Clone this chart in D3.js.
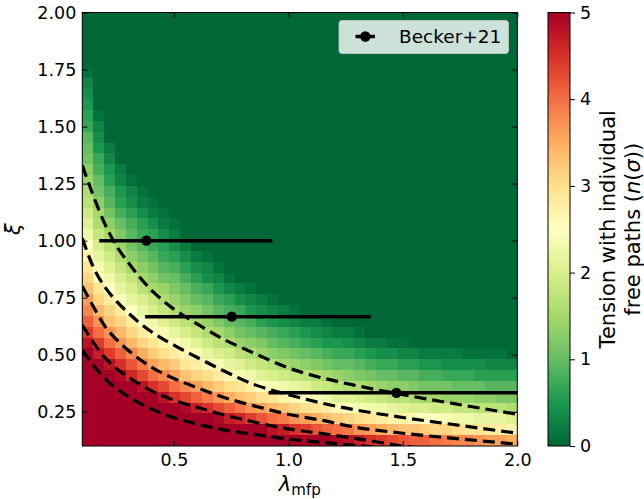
<!DOCTYPE html>
<html><head><meta charset="utf-8">
<script src="https://cdn.jsdelivr.net/npm/d3@7"></script>
<style>
body{margin:0;background:#fff}
svg text{font-family:"DejaVu Sans",sans-serif;fill:#000}
</style>
</head><body>
<svg id="chart" width="644" height="499"></svg>
<script>
// ---------------- data ----------------
const lamCenters = [0.124,0.171,0.219,0.266,0.314,0.361,0.409,0.456,0.504,0.551,
  0.599,0.646,0.694,0.741,0.789,0.836,0.884,0.931,0.979,1.026,
  1.074,1.121,1.169,1.216,1.264,1.311,1.359,1.406,1.454,1.501,
  1.549,1.596,1.644,1.691,1.739,1.786,1.834,1.881,1.929,1.976];
// row centres, top row first
const xiRows = [1.976,1.929,1.881,1.834,1.786,1.739,1.691,1.644,1.596,1.549,
  1.501,1.454,1.406,1.359,1.311,1.264,1.216,1.169,1.121,1.074,
  1.026,0.979,0.931,0.884,0.836,0.789,0.741,0.694,0.646,0.599,
  0.551,0.504,0.456,0.409,0.361,0.314,0.266,0.219,0.171,0.124];
// tension in n(sigma), one array per xi row (top to bottom), one value per lambda column
const tension = [
[0,0,0,0,0,0,0,0,0,0, 0,0,0,0,0,0,0,0,0,0, 0,0,0,0,0,0,0,0,0,0, 0,0,0,0,0,0,0,0,0,0],
[0,0,0,0,0,0,0,0,0,0, 0,0,0,0,0,0,0,0,0,0, 0,0,0,0,0,0,0,0,0,0, 0,0,0,0,0,0,0,0,0,0],
[0,0,0,0,0,0,0,0,0,0, 0,0,0,0,0,0,0,0,0,0, 0,0,0,0,0,0,0,0,0,0, 0,0,0,0,0,0,0,0,0,0],
[0,0,0,0,0,0,0,0,0,0, 0,0,0,0,0,0,0,0,0,0, 0,0,0,0,0,0,0,0,0,0, 0,0,0,0,0,0,0,0,0,0],
[0,0,0,0,0,0,0,0,0,0, 0,0,0,0,0,0,0,0,0,0, 0,0,0,0,0,0,0,0,0,0, 0,0,0,0,0,0,0,0,0,0],
[.1,0,0,0,0,0,0,0,0,0, 0,0,0,0,0,0,0,0,0,0, 0,0,0,0,0,0,0,0,0,0, 0,0,0,0,0,0,0,0,0,0],
[.3,0,0,0,0,0,0,0,0,0, 0,0,0,0,0,0,0,0,0,0, 0,0,0,0,0,0,0,0,0,0, 0,0,0,0,0,0,0,0,0,0],
[.4,0,0,0,0,0,0,0,0,0, 0,0,0,0,0,0,0,0,0,0, 0,0,0,0,0,0,0,0,0,0, 0,0,0,0,0,0,0,0,0,0],
[.5,0,0,0,0,0,0,0,0,0, 0,0,0,0,0,0,0,0,0,0, 0,0,0,0,0,0,0,0,0,0, 0,0,0,0,0,0,0,0,0,0],
[.6,.1,0,0,0,0,0,0,0,0, 0,0,0,0,0,0,0,0,0,0, 0,0,0,0,0,0,0,0,0,0, 0,0,0,0,0,0,0,0,0,0],
[.7,.3,0,0,0,0,0,0,0,0, 0,0,0,0,0,0,0,0,0,0, 0,0,0,0,0,0,0,0,0,0, 0,0,0,0,0,0,0,0,0,0],
[.9,.4,0,0,0,0,0,0,0,0, 0,0,0,0,0,0,0,0,0,0, 0,0,0,0,0,0,0,0,0,0, 0,0,0,0,0,0,0,0,0,0],
[1,.5,.2,0,0,0,0,0,0,0, 0,0,0,0,0,0,0,0,0,0, 0,0,0,0,0,0,0,0,0,0, 0,0,0,0,0,0,0,0,0,0],
[1.1,.7,.3,0,0,0,0,0,0,0, 0,0,0,0,0,0,0,0,0,0, 0,0,0,0,0,0,0,0,0,0, 0,0,0,0,0,0,0,0,0,0],
[1.3,.8,.5,.2,0,0,0,0,0,0, 0,0,0,0,0,0,0,0,0,0, 0,0,0,0,0,0,0,0,0,0, 0,0,0,0,0,0,0,0,0,0],
[1.4,1,.6,.3,.1,0,0,0,0,0, 0,0,0,0,0,0,0,0,0,0, 0,0,0,0,0,0,0,0,0,0, 0,0,0,0,0,0,0,0,0,0],
[1.6,1.1,.8,.5,.3,.1,0,0,0,0, 0,0,0,0,0,0,0,0,0,0, 0,0,0,0,0,0,0,0,0,0, 0,0,0,0,0,0,0,0,0,0],
[1.7,1.3,.9,.6,.4,.2,.1,0,0,0, 0,0,0,0,0,0,0,0,0,0, 0,0,0,0,0,0,0,0,0,0, 0,0,0,0,0,0,0,0,0,0],
[1.9,1.5,1.1,.8,.6,.4,.2,.1,0,0, 0,0,0,0,0,0,0,0,0,0, 0,0,0,0,0,0,0,0,0,0, 0,0,0,0,0,0,0,0,0,0],
[2.1,1.6,1.3,1,.8,.6,.4,.2,.1,0, 0,0,0,0,0,0,0,0,0,0, 0,0,0,0,0,0,0,0,0,0, 0,0,0,0,0,0,0,0,0,0],
[2.3,1.8,1.5,1.2,.9,.7,.6,.4,.2,0, 0,0,0,0,0,0,0,0,0,0, 0,0,0,0,0,0,0,0,0,0, 0,0,0,0,0,0,0,0,0,0],
[2.5,2,1.7,1.4,1.1,.9,.7,.6,.4,.2, 0,0,0,0,0,0,0,0,0,0, 0,0,0,0,0,0,0,0,0,0, 0,0,0,0,0,0,0,0,0,0],
[2.7,2.2,1.9,1.6,1.3,1.1,.9,.7,.6,.4, .2,.1,0,0,0,0,0,0,0,0, 0,0,0,0,0,0,0,0,0,0, 0,0,0,0,0,0,0,0,0,0],
[2.9,2.4,2.1,1.8,1.5,1.3,1.1,.9,.8,.6, .4,.3,.1,0,0,0,0,0,0,0, 0,0,0,0,0,0,0,0,0,0, 0,0,0,0,0,0,0,0,0,0],
[3.1,2.6,2.3,2,1.8,1.5,1.3,1.1,1,.8, .6,.4,.3,.1,0,0,0,0,0,0, 0,0,0,0,0,0,0,0,0,0, 0,0,0,0,0,0,0,0,0,0],
[3.3,2.9,2.5,2.2,2,1.7,1.5,1.4,1.2,1, .8,.7,.5,.3,.2,.1,0,0,0,0, 0,0,0,0,0,0,0,0,0,0, 0,0,0,0,0,0,0,0,0,0],
[3.6,3.1,2.8,2.5,2.2,2,1.8,1.6,1.4,1.2, 1,.9,.7,.6,.4,.3,.2,.1,0,0, 0,0,0,0,0,0,0,0,0,0, 0,0,0,0,0,0,0,0,0,0],
[3.8,3.4,3.1,2.8,2.5,2.2,2,1.8,1.6,1.4, 1.3,1.1,.9,.8,.7,.5,.4,.3,.2,.1, 0,0,0,0,0,0,0,0,0,0, 0,0,0,0,0,0,0,0,0,0],
[4.1,3.7,3.3,3.1,2.8,2.5,2.3,2.1,1.9,1.7, 1.5,1.4,1.2,1,.9,.8,.6,.5,.4,.3, .2,.2,.1,0,0,0,0,0,0,0, 0,0,0,0,0,0,0,0,0,0],
[4.4,4,3.7,3.4,3.1,2.8,2.6,2.4,2.2,2, 1.8,1.6,1.5,1.3,1.1,1,.9,.8,.7,.6, .5,.4,.3,.2,.2,.1,0,0,0,0, 0,0,0,0,0,0,0,0,0,0],
[4.8,4.4,4,3.7,3.4,3.1,2.9,2.7,2.5,2.3, 2.1,1.9,1.7,1.6,1.4,1.3,1.2,1,.9,.8, .7,.6,.5,.5,.4,.3,.2,.2,.1,.1, 0,0,0,0,0,0,0,0,0,0],
[5,4.7,4.4,4.1,3.8,3.5,3.2,3,2.8,2.6, 2.4,2.2,2,1.9,1.7,1.6,1.4,1.3,1.2,1.1, 1,.9,.8,.7,.7,.6,.5,.4,.4,.3, .3,.2,.2,.2,.2,.1,.1,.1,.1,0],
[5,5,4.8,4.5,4.2,3.9,3.6,3.4,3.2,2.9, 2.8,2.6,2.4,2.2,2.1,1.9,1.8,1.7,1.5,1.4, 1.3,1.2,1.1,1,1,.9,.8,.7,.7,.6, .6,.5,.5,.4,.4,.4,.4,.3,.3,.3],
[5,5,5,4.9,4.6,4.3,4,3.8,3.6,3.3, 3.1,3,2.8,2.6,2.4,2.3,2.1,2,1.9,1.8, 1.7,1.6,1.5,1.4,1.3,1.2,1.1,1,1,.9, .9,.8,.8,.7,.7,.7,.6,.6,.6,.6],
[5,5,5,5,5,4.8,4.5,4.3,4,3.8, 3.6,3.4,3.2,3,2.9,2.7,2.5,2.4,2.3,2.2, 2.1,1.9,1.8,1.7,1.6,1.6,1.5,1.4,1.3,1.3, 1.2,1.1,1.1,1.1,1,1,1,.9,.9,.9],
[5,5,5,5,5,5,5,4.8,4.5,4.3, 4.1,3.9,3.7,3.5,3.3,3.2,3,2.9,2.7,2.6, 2.5,2.4,2.3,2.1,2.1,2,1.9,1.8,1.7,1.7, 1.6,1.5,1.5,1.4,1.4,1.4,1.3,1.3,1.2,1.2],
[5,5,5,5,5,5,5,5,5,4.9, 4.7,4.5,4.3,4.1,3.9,3.7,3.6,3.4,3.3,3.1, 3,2.9,2.8,2.6,2.5,2.4,2.3,2.3,2.2,2.1, 2,2,1.9,1.9,1.8,1.8,1.7,1.7,1.7,1.6],
[5,5,5,5,5,5,5,5,5,5, 5,5,4.9,4.7,4.6,4.4,4.2,4,3.9,3.7, 3.6,3.5,3.3,3.2,3.1,3,2.9,2.8,2.7,2.7, 2.6,2.5,2.5,2.4,2.3,2.3,2.2,2.2,2.2,2.1],
[5,5,5,5,5,5,5,5,5,5, 5,5,5,5,5,5,5,4.8,4.7,4.5, 4.4,4.2,4.1,4,3.9,3.7,3.6,3.5,3.4,3.3, 3.3,3.2,3.1,3.1,3,2.9,2.9,2.8,2.8,2.7],
[5,5,5,5,5,5,5,5,5,5, 5,5,5,5,5,5,5,5,5,5, 5,5,5,4.9,4.8,4.7,4.5,4.4,4.3,4.2, 4.1,4.1,4,3.9,3.8,3.8,3.7,3.6,3.6,3.5]
];

// dashed curves (lambda nodes shared, one xi array per curve)
const curveLam = [0.1,0.15,0.2,0.25,0.3,0.4,0.5,0.6,0.7,0.85,1.0,1.15,1.3,1.5,1.75,2.0];
const curveA = [1.33,1.192,1.07,0.976,0.905,0.785,0.70,0.636,0.577,0.507,0.442,0.398,0.364,0.325,0.281,0.239];
const curveB = [1.01,0.88,0.795,0.734,0.684,0.602,0.542,0.489,0.438,0.37,0.325,0.287,0.257,0.225,0.19,0.156];
const curveC = [0.80,0.708,0.623,0.566,0.52,0.447,0.396,0.356,0.319,0.276,0.239,0.212,0.181,0.156,0.131,0.108];
const curveD = [0.63,0.551,0.486,0.439,0.403,0.343,0.301,0.27,0.241,0.205,0.175,0.154,0.132,0.10,0.075,0.055];
const curveE = [0.52,0.452,0.394,0.351,0.317,0.263,0.224,0.197,0.174,0.151,0.13,0.116,0.102,0.085,0.065,0.05];

// Becker+21 points with horizontal error bars
const beckerLam = [0.38, 0.753, 1.472];
const beckerXi  = [1.0, 0.667, 0.333];
const beckerLo  = [0.174, 0.374, 0.913];
const beckerHi  = [0.93, 1.36, 2.05];

const xTicks = [0.5, 1.0, 1.5, 2.0];
const yTicks = [0.25, 0.5, 0.75, 1.0, 1.25, 1.5, 1.75, 2.0];
const cbTicks = [0, 1, 2, 3, 4, 5];
const cmapColors = ["#006837","#1a9850","#66bd63","#a6d96a","#d9ef8b","#ffffbf","#fee08b","#fdae61","#f46d43","#d73027","#a50026"];

// ---------------- drawing ----------------
const svg = d3.select("#chart");
const L = 82.3, R = 517.3, T = 12.5, B = 446;
const x = d3.scaleLinear().domain([0.1, 2.0]).range([L, R]);
const y = d3.scaleLinear().domain([0.1, 2.0]).range([B, T]);
const color = d3.scaleLinear()
  .domain(cmapColors.map((c, i) => 5 * i / (cmapColors.length - 1)))
  .range(cmapColors).clamp(true);

svg.append("defs").append("clipPath").attr("id", "plotclip")
  .append("rect").attr("x", L).attr("y", T).attr("width", R - L).attr("height", B - T);

// cell edges
function edges(c, lo, hi) {
  const e = [lo];
  for (let i = 1; i < c.length; i++) e.push((c[i - 1] + c[i]) / 2);
  e.push(hi);
  return e;
}
const lamE = edges(lamCenters, 0.1, 2.0);
const xiAsc = xiRows.slice().reverse();
const xiEAsc = edges(xiAsc, 0.1, 2.0);

const cells = [];
tension.forEach((row, r) => {
  const k = xiRows.length - 1 - r; // ascending index
  row.forEach((v, i) => cells.push({x0: lamE[i], x1: lamE[i + 1], y0: xiEAsc[k], y1: xiEAsc[k + 1], v}));
});
const heat = svg.append("g").attr("clip-path", "url(#plotclip)");
heat.append("rect").attr("x", L).attr("y", T).attr("width", R - L).attr("height", B - T).attr("fill", color(0));
heat.selectAll("rect.cell").data(cells).join("rect").attr("class", "cell")
  .attr("shape-rendering", "crispEdges")
  .attr("x", d => Math.round(x(d.x0))).attr("y", d => Math.round(y(d.y1)))
  .attr("width", d => Math.round(x(d.x1)) - Math.round(x(d.x0)) + 1)
  .attr("height", d => Math.round(y(d.y0)) - Math.round(y(d.y1)) + 1)
  .attr("fill", d => color(d.v));

// dashed curves
const plotG = svg.append("g").attr("clip-path", "url(#plotclip)");
const line = d3.line().x(d => x(d[0])).y(d => y(d[1])).curve(d3.curveMonotoneX);
[curveA, curveB, curveC, curveD, curveE].forEach(c => {
  plotG.append("path").datum(curveLam.map((l, i) => [l, c[i]]))
    .attr("d", line).attr("fill", "none").attr("stroke", "#000")
    .attr("stroke-width", 3.2).attr("stroke-dasharray", "12,6");
});

// error bars
beckerLam.forEach((l, i) => {
  plotG.append("line").attr("x1", x(beckerLo[i])).attr("x2", x(beckerHi[i]))
    .attr("y1", y(beckerXi[i])).attr("y2", y(beckerXi[i]))
    .attr("stroke", "#000").attr("stroke-width", 3.5);
  plotG.append("circle").attr("cx", x(l)).attr("cy", y(beckerXi[i])).attr("r", 5.2).attr("fill", "#000");
});

// axes (ticks inward on all sides)
const fs = "17.5px";
const gx = svg.append("g").attr("transform", `translate(0,${B})`)
  .call(d3.axisBottom(x).tickValues(xTicks).tickFormat(d3.format(".1f")).tickSizeInner(-5).tickSizeOuter(0).tickPadding(8));
const gy = svg.append("g").attr("transform", `translate(${L},0)`)
  .call(d3.axisLeft(y).tickValues(yTicks).tickFormat(d3.format(".2f")).tickSizeInner(-5).tickSizeOuter(0).tickPadding(6));
const gt = svg.append("g").attr("transform", `translate(0,${T})`)
  .call(d3.axisTop(x).tickValues(xTicks).tickFormat("").tickSizeInner(-5).tickSizeOuter(0));
const gr = svg.append("g").attr("transform", `translate(${R},0)`)
  .call(d3.axisRight(y).tickValues(yTicks).tickFormat("").tickSizeInner(-5).tickSizeOuter(0));
[gx, gy, gt, gr].forEach(g => {
  g.select(".domain").remove();
  g.selectAll("line").attr("stroke", "#000").attr("stroke-width", 1);
  g.selectAll("text").attr("font-size", fs).attr("font-family", "DejaVu Sans");
});
svg.append("rect").attr("x", L).attr("y", T).attr("width", R - L).attr("height", B - T)
  .attr("fill", "none").attr("stroke", "#000").attr("stroke-width", 1);

// axis labels
svg.append("text").attr("transform", `translate(20,${(T + B) / 2}) rotate(-90)`)
  .attr("text-anchor", "middle").attr("font-size", "21px").attr("font-style", "italic").text("ξ");
const xl = svg.append("text").attr("x", (L + R) / 2).attr("y", 491).attr("text-anchor", "middle").attr("font-size", "21px");
xl.append("tspan").attr("font-style", "italic").text("λ");
xl.append("tspan").attr("font-size", "15px").attr("dy", 4).text("mfp");

// legend
const lg = svg.append("g");
lg.append("rect").attr("x", 339).attr("y", 20.5).attr("width", 169.5).attr("height", 33).attr("rx", 3)
  .attr("fill", "#fff").attr("fill-opacity", 0.8).attr("stroke", "#ccc").attr("stroke-opacity", 0.8);
lg.append("line").attr("x1", 355.5).attr("x2", 375).attr("y1", 36.5).attr("y2", 36.5).attr("stroke", "#000").attr("stroke-width", 3.5);
lg.append("circle").attr("cx", 365.3).attr("cy", 36.5).attr("r", 5.2).attr("fill", "#000");
lg.append("text").attr("x", 399).attr("y", 43).attr("font-size", "18.5px").text("Becker+21");

// colorbar
const CL = 548, CR = 570;
const cb = d3.scaleLinear().domain([0, 5]).range([B, T]);
const grad = svg.select("defs").append("linearGradient").attr("id", "cbgrad")
  .attr("x1", 0).attr("y1", 1).attr("x2", 0).attr("y2", 0);
cmapColors.forEach((c, i) => grad.append("stop").attr("offset", i / (cmapColors.length - 1)).attr("stop-color", c));
svg.append("rect").attr("x", CL).attr("y", T).attr("width", CR - CL).attr("height", B - T)
  .attr("fill", "url(#cbgrad)").attr("stroke", "#000").attr("stroke-width", 1);
const gc = svg.append("g").attr("transform", `translate(${CR},0)`)
  .call(d3.axisRight(cb).tickValues(cbTicks).tickFormat(d3.format("d")).tickSizeInner(5).tickSizeOuter(0).tickPadding(5));
gc.select(".domain").remove();
gc.selectAll("line").attr("stroke", "#000");
gc.selectAll("text").attr("font-size", fs).attr("font-family", "DejaVu Sans");

const cl = svg.append("g").attr("transform", `translate(0,${(T + B) / 2})`);
cl.append("text").attr("transform", "translate(615,0) rotate(-90)").attr("text-anchor", "middle")
  .attr("font-size", "21px").text("Tension with individual");
const cl2 = cl.append("text").attr("transform", "translate(640,0) rotate(-90)").attr("text-anchor", "middle")
  .attr("font-size", "21px");
cl2.append("tspan").text("free paths (");
cl2.append("tspan").attr("font-style", "italic").text("n");
cl2.append("tspan").text("(");
cl2.append("tspan").attr("font-style", "italic").text("σ");
cl2.append("tspan").text("))");
</script>
</body></html>
